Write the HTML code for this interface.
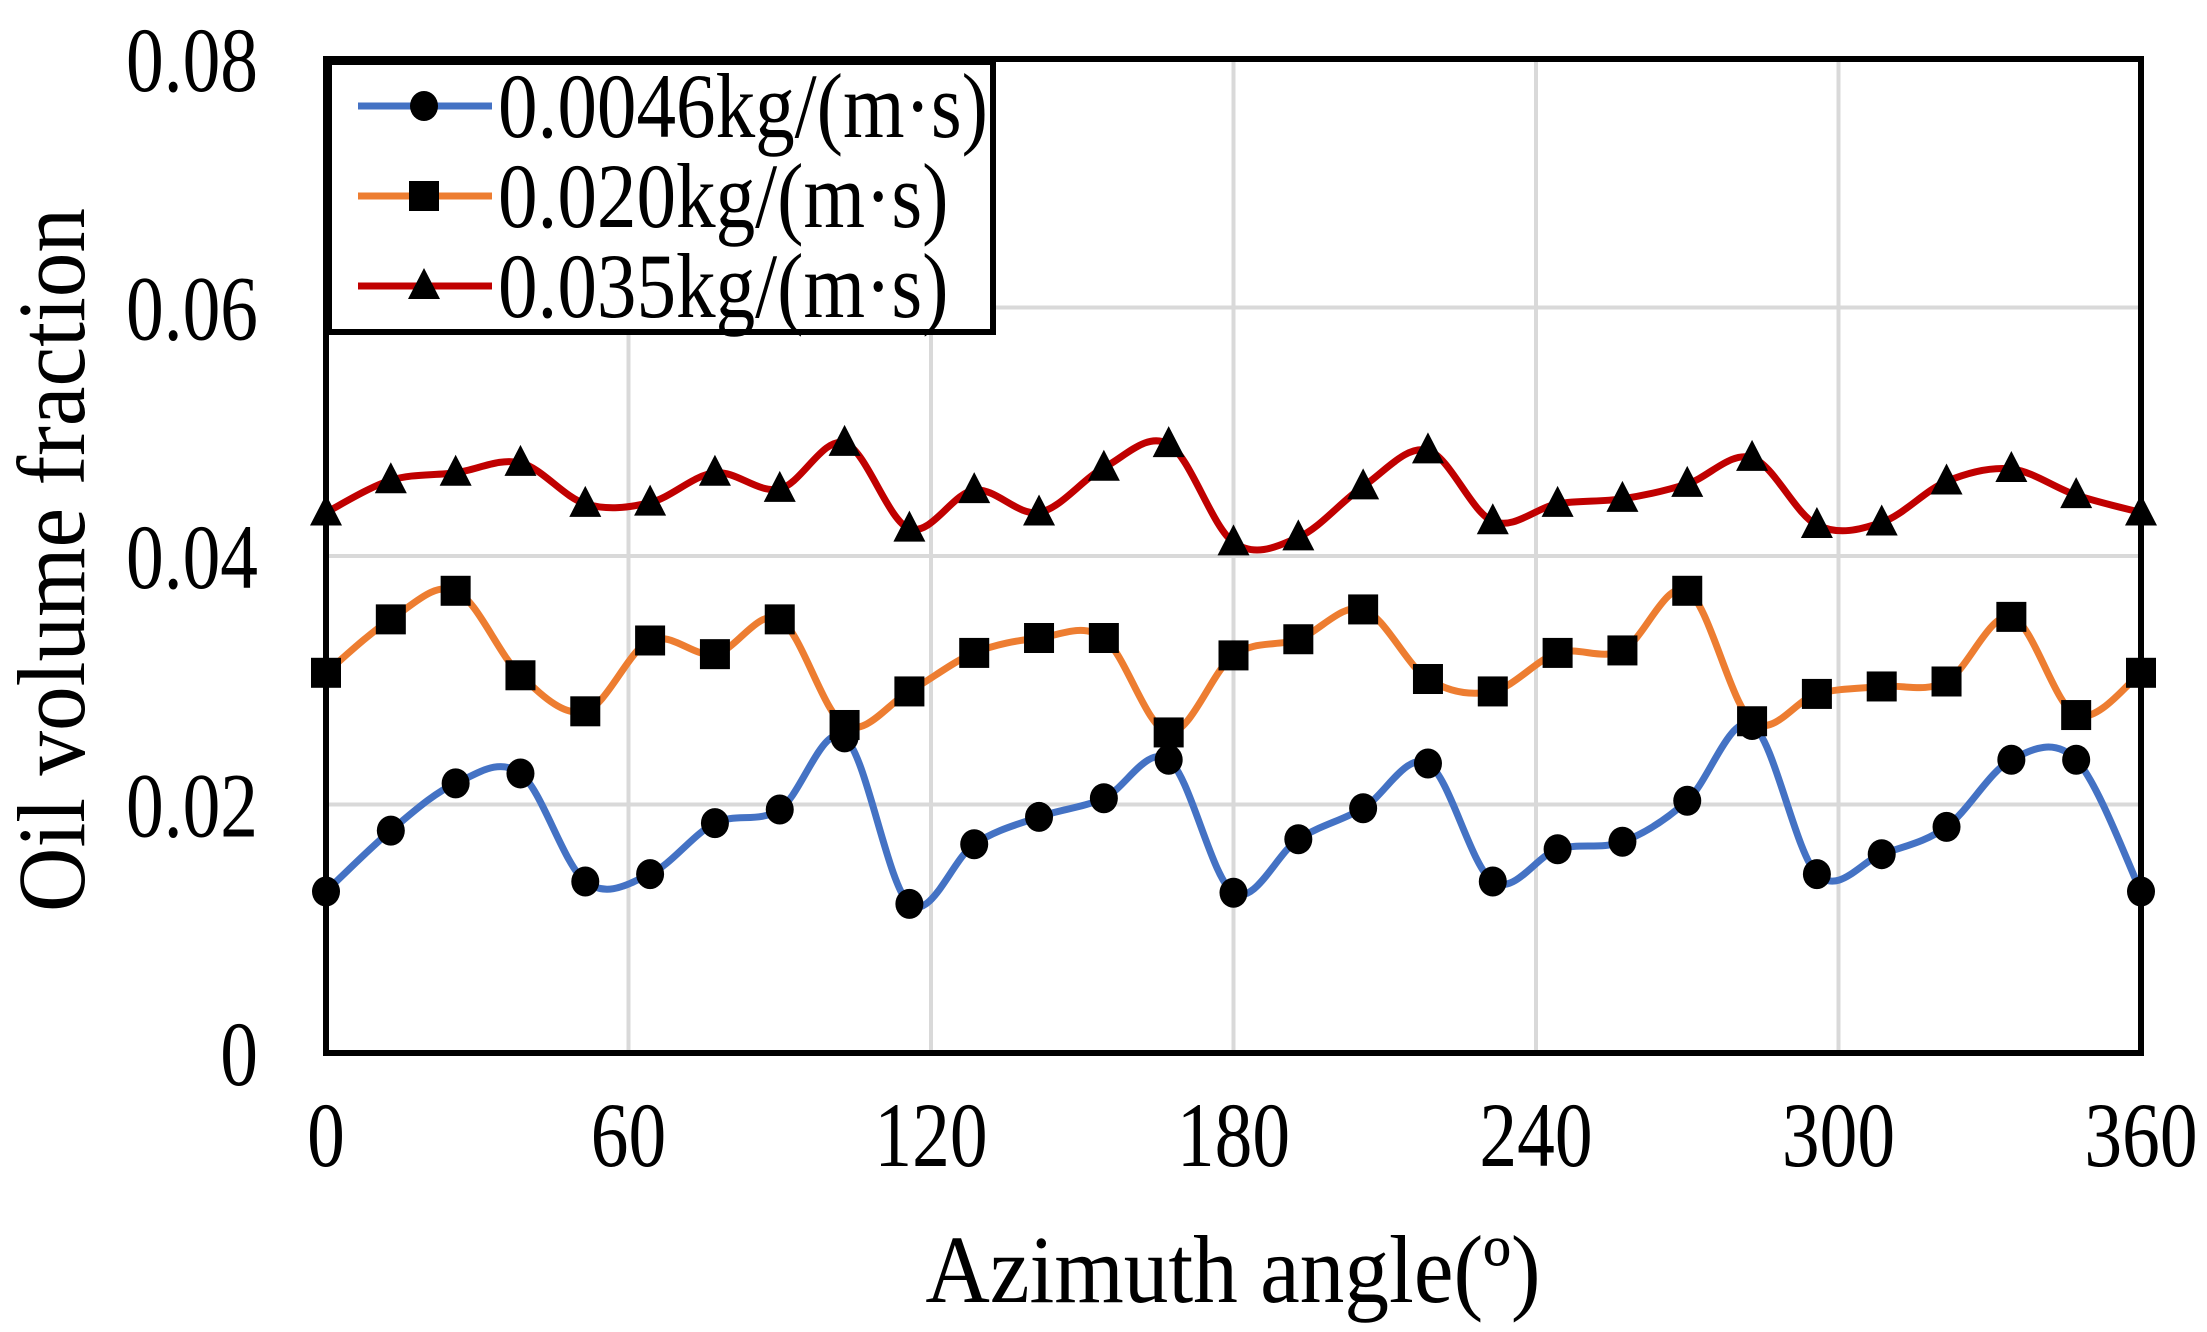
<!DOCTYPE html>
<html><head><meta charset="utf-8"><style>
html,body{margin:0;padding:0;background:#fff;}
svg{display:block;font-family:"Liberation Serif",serif;}
</style></head><body>
<svg id="chart" width="2207" height="1332" viewBox="0 0 2207 1332" xmlns="http://www.w3.org/2000/svg">
<g id="grid"></g>
<g id="series"></g>
<rect x="326" y="59" width="1815" height="994" fill="none" stroke="#000" stroke-width="6"/>
<g id="ticks" font-size="92" fill="#000"></g>
<text x="0" y="0" font-size="96" text-anchor="middle" transform="translate(1233,1302) scale(0.93,1)">Azimuth angle(º)</text>
<text x="0" y="0" font-size="96" text-anchor="middle" transform="translate(84,560) rotate(-90) scale(0.93,1)">Oil volume fraction</text>
<g id="legend"></g>
</svg>
<script>
const xTicks=[0,60,120,180,240,300,360];
const yTicks=[0,0.02,0.04,0.06,0.08];
const yTickLabels=["0","0.02","0.04","0.06","0.08"];
const nPoints=29;
const seriesNames=["0.0046kg/(m·s)","0.020kg/(m·s)","0.035kg/(m·s)"];
const blue=[0.0130,0.0179,0.0217,0.0225,0.0138,0.0144,0.0185,0.0196,0.0254,0.0120,0.0168,0.0190,0.0205,0.0236,0.0129,0.0172,0.0197,0.0233,0.0138,0.0164,0.0170,0.0203,0.0264,0.0144,0.0160,0.0182,0.0236,0.0236,0.0130];
const orange=[0.0306,0.0349,0.0372,0.0304,0.0275,0.0332,0.0321,0.0349,0.0264,0.0291,0.0322,0.0334,0.0334,0.0258,0.0320,0.0333,0.0357,0.0301,0.0291,0.0322,0.0324,0.0372,0.0267,0.0289,0.0295,0.0299,0.0351,0.0272,0.0306];
const red=[0.0435,0.0461,0.0467,0.0475,0.0442,0.0443,0.0467,0.0454,0.0491,0.0422,0.0453,0.0435,0.0471,0.0490,0.0411,0.0415,0.0456,0.0485,0.0428,0.0442,0.0446,0.0458,0.0479,0.0425,0.0427,0.0460,0.0470,0.0449,0.0435];
const angles=[];for(let i=0;i<nPoints;i++)angles.push(i*360/(nPoints-1));
const NS="http://www.w3.org/2000/svg";
const X0=326,X1=2141,Y0=1053,Y1=59;
const sx=v=>X0+(v-0)/(360-0)*(X1-X0);
const sy=v=>Y0-(v-0)/(0.08-0)*(Y0-Y1);
function mk(t,a,p){const e=document.createElementNS(NS,t);for(const k in a)e.setAttribute(k,a[k]);p.appendChild(e);return e;}
const grid=document.getElementById('grid');
xTicks.forEach(t=>{const l=mk('line',{x1:sx(t),x2:sx(t),y1:Y1,y2:Y0,stroke:'#d9d9d9','stroke-width':4},grid);

});
yTicks.forEach(t=>{const l=mk('line',{x1:X0,x2:X1,y1:sy(t),y2:sy(t),stroke:'#d9d9d9','stroke-width':4},grid);

});
const ticks=document.getElementById('ticks');
xTicks.forEach(t=>{const e=mk('text',{x:0,y:0,'text-anchor':'middle',transform:`translate(${sx(t)},1166) scale(0.82,1)`},ticks);e.textContent=t;

});
yTicks.forEach((t,i)=>{const e=mk('text',{x:0,y:0,'text-anchor':'end',transform:`translate(258,${sy(t)+32}) scale(0.82,1)`},ticks);e.textContent=yTickLabels[i];

});
function smooth(pts){let d=`M${pts[0][0]},${pts[0][1]}`;for(let i=0;i<pts.length-1;i++){const p0=pts[Math.max(0,i-1)],p1=pts[i],p2=pts[i+1],p3=pts[Math.min(pts.length-1,i+2)];const k=1/6;
d+=` C${p1[0]+(p2[0]-p0[0])*k},${p1[1]+(p2[1]-p0[1])*k} ${p2[0]-(p3[0]-p1[0])*k},${p2[1]-(p3[1]-p1[1])*k} ${p2[0]},${p2[1]}`;}return d;}
function marker(type,x,y,g){let e;
if(type==='circle')e=mk('ellipse',{cx:x,cy:y,rx:14,ry:15,fill:'#000'},g);
else if(type==='square')e=mk('rect',{x:x-15,y:y-15,width:30,height:30,fill:'#000'},g);
else e=mk('polygon',{points:`${x},${y-18} ${x-16},${y+13} ${x+16},${y+13}`,fill:'#000'},g);
return e;}
const sg=document.getElementById('series');
const defs=[[blue,'#4472c4','circle','series-0046'],[orange,'#ed7d31','square','series-020'],[red,'#c00000','triangle','series-035']];
defs.forEach(([vals,col,m,name])=>{const g=mk('g',{},sg);


const pts=vals.map((v,i)=>[sx(angles[i]),sy(v)]);
const p=mk('path',{d:smooth(pts),fill:'none',stroke:col,'stroke-width':7},g);


pts.forEach(q=>{const e=marker(m,q[0],q[1],g);

});});
const lg=document.getElementById('legend');
const box=mk('rect',{x:329,y:62,width:664,height:270,fill:'#fff',stroke:'#000','stroke-width':6},lg);


defs.forEach(([vals,col,m,name],i)=>{const y=106+i*90;const g=mk('g',{},lg);


mk('line',{x1:358,x2:492,y1:y,y2:y,stroke:col,'stroke-width':7},g);
marker(m,424,y,g);
const t=mk('text',{x:0,y:0,'font-size':92,transform:`translate(498,${y+31}) scale(0.86,1)`},g);t.textContent=seriesNames[i];});
</script>
</body></html>
